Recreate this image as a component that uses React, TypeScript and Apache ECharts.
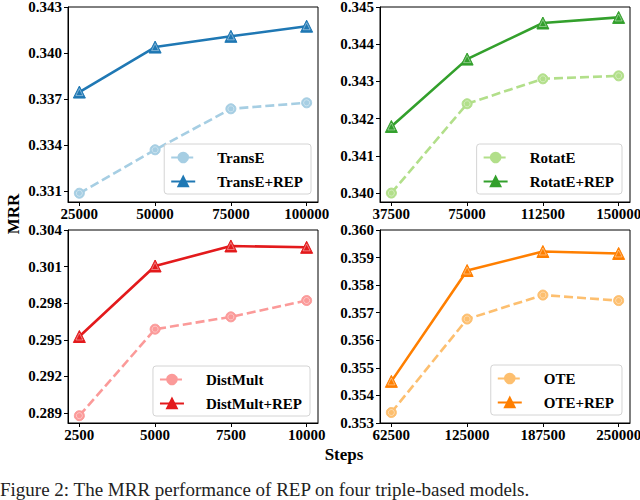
import React, { useEffect, useRef } from 'react';
import * as echarts from 'echarts';

// ---- data ----
const stepsTransE = [25000, 50000, 75000, 100000];
const stepsRotatE = [37500, 75000, 112500, 150000];
const stepsDistMult = [2500, 5000, 7500, 10000];
const stepsOTE = [62500, 125000, 187500, 250000];

const mrrTransE = [0.33087, 0.3337, 0.33637, 0.33676];
const mrrTransERep = [0.33746, 0.34039, 0.34109, 0.34175];
const mrrRotatE = [0.34, 0.3424, 0.34307, 0.34315];
const mrrRotatERep = [0.34179, 0.3436, 0.34457, 0.34472];
const mrrDistMult = [0.28878, 0.29587, 0.29688, 0.29822];
const mrrDistMultRep = [0.29527, 0.30105, 0.30269, 0.30258];
const mrrOTE = [0.35338, 0.35677, 0.35764, 0.35744];
const mrrOTERep = [0.35451, 0.35853, 0.35922, 0.35915];

const yTicksTransE = [0.331, 0.334, 0.337, 0.34, 0.343];
const yTicksRotatE = [0.34, 0.341, 0.342, 0.343, 0.344, 0.345];
const yTicksDistMult = [0.289, 0.292, 0.295, 0.298, 0.301, 0.304];
const yTicksOTE = [0.353, 0.354, 0.355, 0.356, 0.357, 0.358, 0.359, 0.36];

const FONT = "'Liberation Serif', 'Times New Roman', serif";

const panels = [
  {
    base: 'TransE', rep: 'TransE+REP', steps: stepsTransE, a: mrrTransE, b: mrrTransERep,
    yTicks: yTicksTransE, yMin: 0.3303, yMax: 0.343, light: '#a6cee3', dark: '#1f78b4',
    grid: { left: 68, top: 7, width: 250, height: 195 }, legend: { right: 329, bottom: 306 },
  },
  {
    base: 'RotatE', rep: 'RotatE+REP', steps: stepsRotatE, a: mrrRotatE, b: mrrRotatERep,
    yTicks: yTicksRotatE, yMin: 0.33976, yMax: 0.345, light: '#b2df8a', dark: '#33a02c',
    grid: { left: 380, top: 7, width: 250, height: 195 }, legend: { right: 18, bottom: 306 },
  },
  {
    base: 'DistMult', rep: 'DistMult+REP', steps: stepsDistMult, a: mrrDistMult, b: mrrDistMultRep,
    yTicks: yTicksDistMult, yMin: 0.28818, yMax: 0.304, light: '#fb9a99', dark: '#e31a1c',
    grid: { left: 68, top: 230, width: 250, height: 193 }, legend: { right: 330, bottom: 84 },
  },
  {
    base: 'OTE', rep: 'OTE+REP', steps: stepsOTE, a: mrrOTE, b: mrrOTERep,
    yTicks: yTicksOTE, yMin: 0.353, yMax: 0.36, light: '#fdbf6f', dark: '#ff7f00',
    grid: { left: 380, top: 230, width: 250, height: 193 }, legend: { right: 18, bottom: 85 },
  },
];

const labelStyle = { fontFamily: FONT, fontWeight: 'bold' as const, fontSize: 15, color: '#000' };

export default function App() {
  const ref = useRef<HTMLDivElement>(null);
  useEffect(() => {
    if (!ref.current) return;
    const chart = echarts.init(ref.current, undefined, { renderer: 'svg' });
    const grid: any[] = [];
    const xAxis: any[] = [];
    const yAxis: any[] = [];
    const series: any[] = [];
    const legend: any[] = [];
    panels.forEach((p, i) => {
      grid.push({ ...p.grid, show: true, borderColor: '#000', borderWidth: 1, backgroundColor: 'transparent', containLabel: false, outerBoundsMode: 'none' });
      const span = p.steps[p.steps.length - 1] - p.steps[0];
      xAxis.push({
        gridIndex: i, type: 'value',
        min: p.steps[0] - span * 0.05, max: p.steps[p.steps.length - 1] + span * 0.05,
        axisLine: { show: true, lineStyle: { color: '#000', width: 1 } },
        axisTick: { show: true, customValues: p.steps, length: 4, inside: false, lineStyle: { color: '#000', width: 1 } },
        axisLabel: { ...labelStyle, customValues: p.steps, margin: 4, formatter: (v: number) => String(Math.round(v)) },
        splitLine: { show: false },
      });
      yAxis.push({
        gridIndex: i, type: 'value', min: p.yMin, max: p.yMax,
        axisLine: { show: true, lineStyle: { color: '#000', width: 1 } },
        axisTick: { show: true, customValues: p.yTicks, length: 4, inside: false, lineStyle: { color: '#000', width: 1 } },
        axisLabel: { ...labelStyle, customValues: p.yTicks, margin: 6, formatter: (v: number) => v.toFixed(3) },
        splitLine: { show: false },
      });
      const dA = p.steps.map((s, k) => [s, p.a[k]]);
      const dB = p.steps.map((s, k) => [s, p.b[k]]);
      series.push({
        name: p.base, type: 'line', xAxisIndex: i, yAxisIndex: i, data: dA,
        symbol: 'circle', symbolSize: 10, showAllSymbol: true,
        lineStyle: { color: p.light, width: 2.6, type: [9, 4] },
        itemStyle: { color: p.light, borderColor: p.light, borderWidth: 1 },
        z: 2,
      });
      series.push({
        name: p.rep, type: 'line', xAxisIndex: i, yAxisIndex: i, data: dB,
        symbol: 'triangle', symbolSize: 12, showAllSymbol: true,
        lineStyle: { color: p.dark, width: 2.6 },
        itemStyle: { color: p.dark, borderColor: p.dark, borderWidth: 1 },
        z: 3,
      });
      series.push({
        name: p.base + '_ring', type: 'scatter', xAxisIndex: i, yAxisIndex: i, data: dA,
        symbol: 'circle', symbolSize: 6, silent: true,
        itemStyle: { color: 'rgba(0,0,0,0)', borderColor: 'rgba(255,255,255,0.65)', borderWidth: 0.8 },
        z: 4,
      });
      series.push({
        name: p.rep + '_ring', type: 'scatter', xAxisIndex: i, yAxisIndex: i, data: dB,
        symbol: 'triangle', symbolSize: 7, silent: true,
        itemStyle: { color: 'rgba(0,0,0,0)', borderColor: 'rgba(255,255,255,0.65)', borderWidth: 0.8 },
        z: 5,
      });
      legend.push({
        data: [p.base, p.rep], orient: 'vertical', ...p.legend,
        itemWidth: 24, itemHeight: 12, itemGap: 9,
        padding: [6, 8, 5, 6],
        borderColor: '#d4d4d4', borderWidth: 1, borderRadius: 3,
        backgroundColor: 'rgba(255,255,255,0.85)',
        textStyle: { ...labelStyle, padding: [0, 0, 0, 17] },
        selectedMode: false,
      });
    });
    chart.setOption({
      animation: false,
      backgroundColor: '#fff',
      grid, xAxis, yAxis, series, legend,
      graphic: [
        {
          type: 'text', x: 13, y: 214, rotation: Math.PI / 2,
          style: { text: 'MRR', font: `bold 17px ${FONT}`, fill: '#000', textAlign: 'center', textVerticalAlign: 'middle' },
        },
        {
          type: 'text', x: 344, y: 454,
          style: { text: 'Steps', font: `bold 17px ${FONT}`, fill: '#000', textAlign: 'center', textVerticalAlign: 'middle' },
        },
        {
          type: 'text', x: 0, y: 480,
          style: { text: 'Figure 2: The MRR performance of REP on four triple-based models.', font: `19px ${FONT}`, fill: '#222', textAlign: 'left', textVerticalAlign: 'top' },
        },
      ],
    });
    return () => chart.dispose();
  }, []);
  return <div ref={ref} style={{ width: 640, height: 500, position: 'absolute', left: 0, top: 0 }} />;
}
